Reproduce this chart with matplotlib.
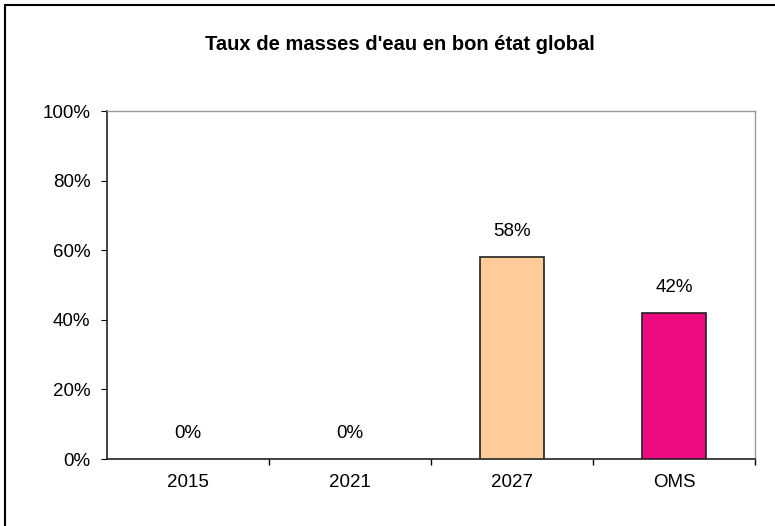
import matplotlib
matplotlib.use("Agg")
import matplotlib.pyplot as plt
from matplotlib.patches import Rectangle
from matplotlib.ticker import FixedLocator, PercentFormatter

categories = ["2015", "2021", "2027", "OMS"]
values = [0, 0, 58, 42]
colors = ["#FFCC99", "#FFCC99", "#FFCC99", "#EE0A80"]
labels = ["0%", "0%", "58%", "42%"]
title = "Taux de masses d'eau en bon état global"

plt.rcParams['font.family'] = ['Liberation Sans', 'DejaVu Sans']
FS = 13.5

fig = plt.figure(figsize=(7.75, 5.26), dpi=100)
fig.patches.append(Rectangle((5/775, -0.1), 1.2, (526-5)/526 + 0.1,
                             transform=fig.transFigure, fill=False,
                             edgecolor='black', linewidth=1.5))

ax = fig.add_axes([107/775, 1 - 459/526, (755-107)/775, (459-111)/526])
x = list(range(len(categories)))
edges = ['#222222' if v > 0 else 'none' for v in values]
ax.bar(x, values, width=0.4, color=colors, edgecolor=edges, linewidth=1.2, zorder=3)
for xi, v, lab in zip(x, values, labels):
    ax.annotate(lab, (xi, v), xytext=(0, 18.5), textcoords='offset points',
                ha='center', va='center', fontsize=FS)

ax.set_xlim(-0.5, len(categories) - 0.5)
ax.set_ylim(0, 100)
ax.set_yticks([0, 20, 40, 60, 80, 100])
ax.yaxis.set_major_formatter(PercentFormatter(decimals=0))
ax.set_xticks(x)
ax.set_xticklabels(categories, fontsize=FS)
ax.tick_params(axis='x', length=0, pad=11)
ax.xaxis.set_minor_locator(FixedLocator([0.5, 1.5, 2.5, 3.5]))
ax.tick_params(axis='x', which='minor', length=4, direction='out', width=1)
ax.tick_params(axis='y', length=4, direction='out', labelsize=FS, pad=8)

for s in ['left', 'bottom']:
    ax.spines[s].set_color('#222222')
    ax.spines[s].set_linewidth(1.2)
for s in ['top', 'right']:
    ax.spines[s].set_color('#999999')
    ax.spines[s].set_linewidth(1.0)

fig.text(400/775, 1 - 45/526, title, ha='center', va='center',
         fontsize=14.5, fontweight='bold')

fig.savefig("out.png", dpi=100)
